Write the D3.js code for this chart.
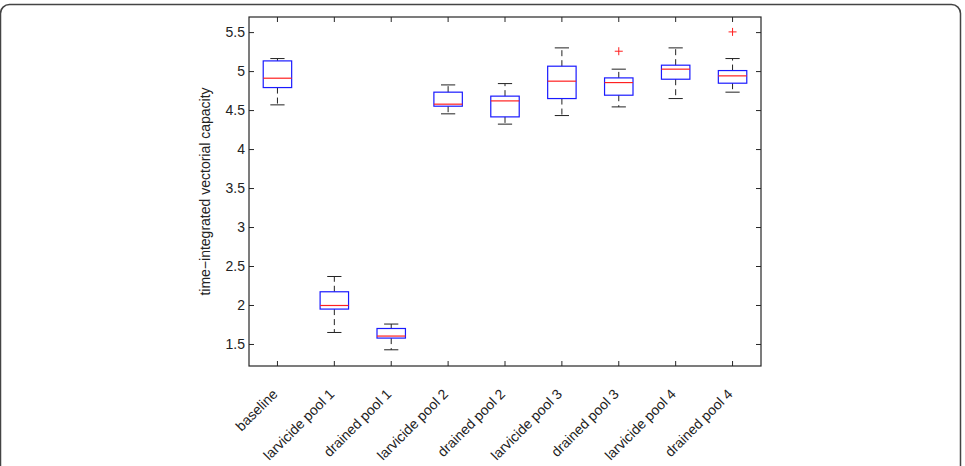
<!DOCTYPE html>
<html><head><meta charset="utf-8">
<script src="https://cdn.jsdelivr.net/npm/d3@7/dist/d3.min.js"></script>
<style>
body{margin:0;background:#fff;}
svg{display:block;font-family:"Liberation Sans",Arial,Helvetica,sans-serif;}
</style></head>
<body>
<svg id="chart" width="965" height="466"></svg>
<script>
const categories = ["baseline","larvicide pool 1","drained pool 1","larvicide pool 2","drained pool 2","larvicide pool 3","drained pool 3","larvicide pool 4","drained pool 4"];
const whiskerLow  = [4.573, 1.654, 1.432, 4.458, 4.326, 4.436, 4.547, 4.654, 4.736];
const q1          = [4.795, 1.954, 1.582, 4.556, 4.419, 4.654, 4.697, 4.902, 4.851];
const medians     = [4.915, 2.000, 1.608, 4.582, 4.624, 4.877, 4.859, 5.031, 4.945];
const q3          = [5.137, 2.176, 1.705, 4.736, 4.685, 5.069, 4.919, 5.082, 5.013];
const whiskerHigh = [5.167, 2.372, 1.762, 4.829, 4.846, 5.304, 5.031, 5.304, 5.167];
const outliers    = [[], [], [], [], [], [], [5.261], [], [5.509]];
const yTicks = [1.5, 2, 2.5, 3, 3.5, 4, 4.5, 5, 5.5];
const yLabel = "time\u2212integrated vectorial capacity";

const svg = d3.select("#chart");
svg.append("rect").attr("x",0.5).attr("y",4.5).attr("width",960).attr("height",490)
  .attr("rx",9).attr("fill","none").attr("stroke","#444").attr("stroke-width",1.5);

const L=249, R=761, T=17, B=366;
const x = d3.scaleLinear().domain([0.5, 9.5]).range([L, R]);
const y = d3.scaleLinear().domain([1.224, 5.70]).range([B, T]);
const bw = (x(2)-x(1))/2;
const cw = bw/2;
const ink = "#262626";
const fs = 14;

const g = svg.append("g");
const tl = 5;
yTicks.forEach(v=>{
  g.append("line").attr("x1",L).attr("x2",L+tl).attr("y1",y(v)).attr("y2",y(v)).attr("stroke",ink);
  g.append("line").attr("x1",R).attr("x2",R-tl).attr("y1",y(v)).attr("y2",y(v)).attr("stroke",ink);
  g.append("text").attr("x",L-4).attr("y",y(v)).attr("dy","0.35em").attr("text-anchor","end")
    .attr("font-size",fs).attr("fill","#222").text(d3.format("")(v));
});
categories.forEach((c,i)=>{
  const cx = x(i+1);
  g.append("line").attr("x1",cx).attr("x2",cx).attr("y1",B).attr("y2",B-tl).attr("stroke",ink);
  g.append("line").attr("x1",cx).attr("x2",cx).attr("y1",T).attr("y2",T+tl).attr("stroke",ink);
  g.append("text").attr("transform",`translate(${cx+1},${B+29}) rotate(-45)`)
    .attr("text-anchor","end").attr("font-size",fs).attr("fill","#222").text(c);
});
g.append("rect").attr("x",L).attr("y",T).attr("width",R-L).attr("height",B-T)
  .attr("fill","none").attr("stroke",ink).attr("stroke-width",1.2);

g.append("text").attr("transform",`translate(210,${(T+B)/2}) rotate(-90)`)
  .attr("text-anchor","middle").attr("font-size",fs).attr("fill","#222").text(yLabel);

categories.forEach((c,i)=>{
  const cx = x(i+1);
  g.append("line").attr("x1",cx).attr("x2",cx).attr("y1",y(q3[i])).attr("y2",y(whiskerHigh[i]))
    .attr("stroke","#222").attr("stroke-dasharray","6,4");
  g.append("line").attr("x1",cx).attr("x2",cx).attr("y1",y(q1[i])).attr("y2",y(whiskerLow[i]))
    .attr("stroke","#222").attr("stroke-dasharray","6,4");
  [whiskerHigh[i], whiskerLow[i]].forEach(v=>{
    g.append("line").attr("x1",cx-cw/2).attr("x2",cx+cw/2).attr("y1",y(v)).attr("y2",y(v)).attr("stroke","#222");
  });
  g.append("rect").attr("x",cx-bw/2).attr("y",y(q3[i])).attr("width",bw).attr("height",y(q1[i])-y(q3[i]))
    .attr("fill","none").attr("stroke","#1a1aff").attr("stroke-width",1.2);
  g.append("line").attr("x1",cx-bw/2).attr("x2",cx+bw/2).attr("y1",y(medians[i])).attr("y2",y(medians[i]))
    .attr("stroke","#ff2020").attr("stroke-width",1.2);
  outliers[i].forEach(v=>{
    const oy=y(v), s=4;
    g.append("line").attr("x1",cx-s).attr("x2",cx+s).attr("y1",oy).attr("y2",oy).attr("stroke","#ff2020");
    g.append("line").attr("x1",cx).attr("x2",cx).attr("y1",oy-s).attr("y2",oy+s).attr("stroke","#ff2020");
  });
});
</script>
</body></html>
